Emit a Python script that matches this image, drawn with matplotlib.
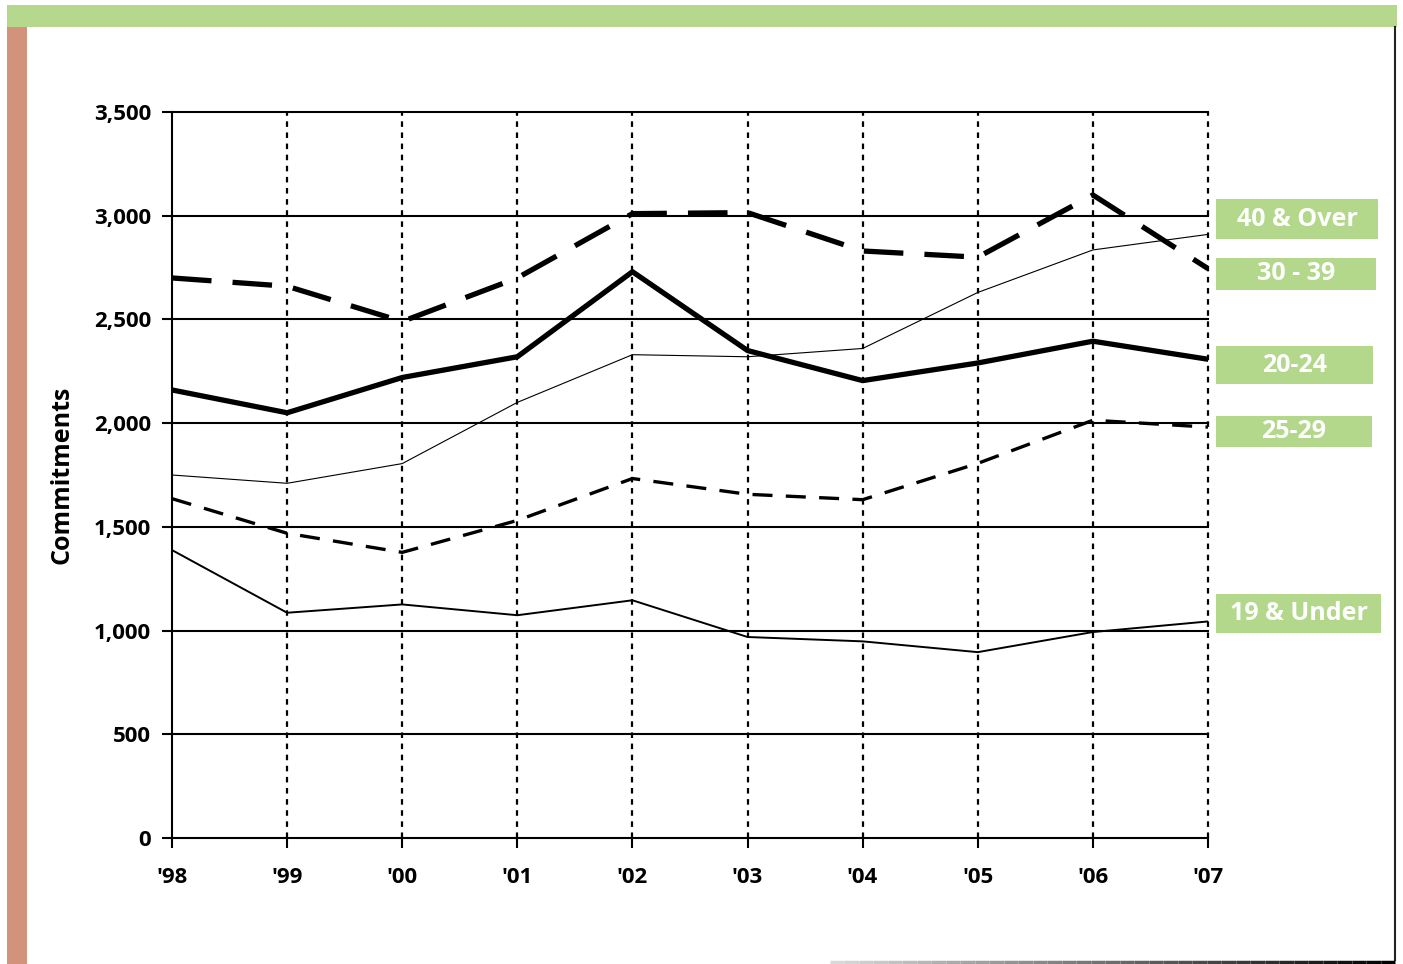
import numpy as np
import matplotlib.pyplot as plt
from matplotlib.patches import Rectangle
from matplotlib.lines import Line2D

plt.rcParams['font.family'] = ['Open Sans', 'DejaVu Sans']

years = ["'98", "'99", "'00", "'01", "'02", "'03", "'04", "'05", "'06", "'07"]
age_40_over = [2700, 2660, 2490, 2700, 3010, 3015, 2830, 2800, 3100, 2745]
age_30_39 = [1750, 1710, 1805, 2100, 2330, 2320, 2360, 2630, 2835, 2910]
age_20_24 = [2160, 2050, 2220, 2320, 2730, 2350, 2205, 2290, 2395, 2308]
age_25_29 = [1636, 1469, 1377, 1531, 1733, 1657, 1631, 1806, 2014, 1981]
age_19_under = [1388, 1086, 1126, 1074, 1146, 969, 948, 896, 993, 1044]

yticks = [0, 500, 1000, 1500, 2000, 2500, 3000, 3500]

W, H = 1403, 964
fig = plt.figure(figsize=(W / 100, H / 100), dpi=100)

def fx(px):
    return px / W

def fy(py):
    return 1 - py / H

# decorative frame
fig.add_artist(Rectangle((fx(7), fy(27)), fx(1390), fy(5) - fy(27),
                         transform=fig.transFigure, color='#b5d88c', lw=0))
fig.add_artist(Rectangle((fx(7), fy(964)), fx(20), fy(27) - fy(964),
                         transform=fig.transFigure, color='#d3937a', lw=0))
fig.add_artist(Line2D([fx(1395), fx(1395)], [fy(27), fy(960)],
                      transform=fig.transFigure, color='#222222', lw=1.5))
xs = np.linspace(830, 1395, 40)
for i in range(len(xs) - 1):
    g = 0.85 * (1 - i / (len(xs) - 2))
    fig.add_artist(Line2D([fx(xs[i]), fx(xs[i + 1])], [fy(962), fy(962)],
                          transform=fig.transFigure, color=(g, g, g), lw=2.5,
                          solid_capstyle='butt'))

ax = fig.add_axes([fx(172), fy(838), fx(1208) - fx(172), fy(112) - fy(838)])
x = np.arange(len(years))

for v in yticks[1:]:
    ax.axhline(v, color='black', lw=1.5, zorder=1, clip_on=False)
for xi in x[1:]:
    ax.axvline(xi, color='black', lw=1.6, linestyle=(0, (2.5, 2.5)), zorder=1,
               clip_on=False)

ax.plot(x, age_19_under, color='black', lw=1.4, zorder=3)
ax.plot(x, age_30_39, color='black', lw=0.8, zorder=3)
ax.plot(x, age_25_29, color='black', lw=2.4, linestyle=(0, (6, 4)), zorder=3)
ax.plot(x, age_20_24, color='black', lw=3.8, zorder=3)
ax.plot(x, age_40_over, color='black', lw=3.8, linestyle=(0, (7.5, 4)), zorder=3)

ax.set_xlim(0, len(years) - 1)
ax.set_ylim(0, 3500)
ax.set_xticks(x)
ax.set_xticklabels(years, fontsize=16, fontweight='bold')
ax.set_yticks(yticks)
ax.set_yticklabels([f'{v:,}' for v in yticks], fontsize=16, fontweight='bold')
ax.tick_params(axis='both', length=7, width=1.5, color='black')
ax.tick_params(axis='x', pad=14)
ax.tick_params(axis='y', pad=8)
for s in ['top', 'right']:
    ax.spines[s].set_visible(False)
for s in ['left', 'bottom']:
    ax.spines[s].set_linewidth(1.5)
ax.set_ylabel('Commitments', fontsize=18, fontweight='bold', labelpad=14)

# series labels
labels = [("40 & Over", 1216, 1378, 199, 239),
          ("30 - 39", 1216, 1376, 258, 290),
          ("20-24", 1216, 1373, 346, 384),
          ("25-29", 1216, 1372, 416, 447),
          ("19 & Under", 1216, 1381, 594, 633)]
for txt, x0, x1, y0, y1 in labels:
    fig.add_artist(Rectangle((fx(x0), fy(y1)), fx(x1 - x0), fy(y0) - fy(y1),
                             transform=fig.transFigure, color='#b3d78b', lw=0))
    fig.text(fx((x0 + x1) / 2), fy((y0 + y1) / 2), txt, color='white',
             fontsize=18, fontweight='bold', ha='center', va='center')

fig.savefig('out.png', dpi=100)
